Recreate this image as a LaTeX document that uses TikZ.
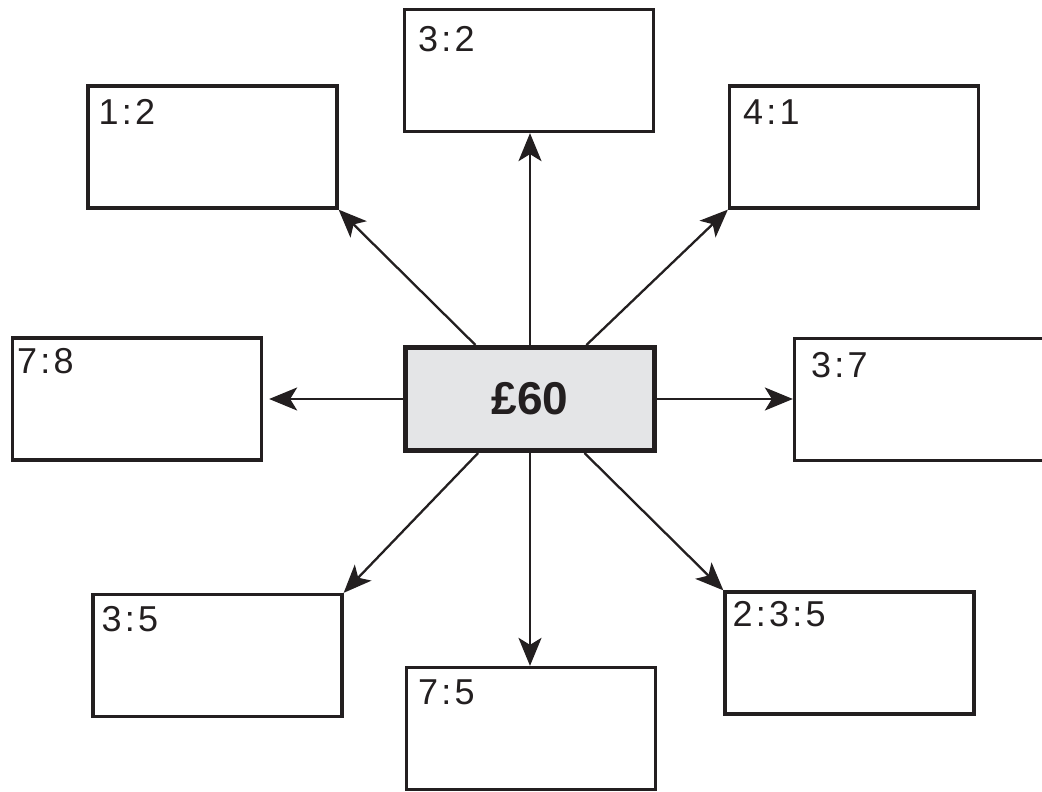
\documentclass[tikz,border=0pt]{standalone}
\usepackage{fontspec}
\setmainfont{Liberation Sans}
\newfontfamily\ratiofont{Liberation Sans}[LetterSpace=9]
\usetikzlibrary{arrows.meta}
\definecolor{ink}{HTML}{231F20}
\definecolor{hubgray}{HTML}{E4E5E7}
\begin{document}
\begin{tikzpicture}[x=1pt,y=-1pt,
  ratiobox/.style={draw=ink, line width=3.3pt, minimum width=249pt, minimum height=122pt, inner sep=0pt},
  hub/.style={draw=ink, fill=hubgray, line width=5pt, minimum width=249pt, minimum height=103pt,
    inner sep=0pt, text=ink, font=\bfseries\fontsize{46}{50}\selectfont},
  ratio/.style={anchor=north west, inner sep=0pt, text=ink, font=\ratiofont\fontsize{36}{40}\selectfont},
  link/.style={draw=ink, line width=2.3pt, -{Stealth[length=28pt,width=23pt,inset=7pt]}}]
\useasboundingbox (0,0) rectangle (1042,792);
\clip (0,0) rectangle (1042,792);

% central amount
\node[hub] (c) at (530,399) {£60};

% surrounding ratio boxes
\node[ratiobox] (b32)  at (529,70.5)  {};
\node[ratiobox] (b12)  at (212.5,147) {};
\node[ratiobox] (b41)  at (854,147)   {};
\node[ratiobox] (b78)  at (137,399)   {};
\node[ratiobox] (b37)  at (919,399.5) {};
\node[ratiobox] (b35)  at (217.5,655.5) {};
\node[ratiobox] (b75)  at (531,728.5) {};
\node[ratiobox] (b235) at (849.5,653) {};

% ratio labels in the top-left corners
\node[ratio] (t32)  at ([shift={(15,18)}]b32.north west)  {3:2};
\node[ratio] (t12)  at ([shift={(12,15)}]b12.north west)  {1:2};
\node[ratio] (t41)  at ([shift={(15,15)}]b41.north west)  {4:1};
\node[ratio] (t78)  at ([shift={(6,12)}]b78.north west)   {7:8};
\node[ratio] (t37)  at ([shift={(18,15)}]b37.north west)  {3:7};
\node[ratio] (t35)  at ([shift={(10,13)}]b35.north west)  {3:5};
\node[ratio] (t75)  at ([shift={(13,14)}]b75.north west)  {7:5};
\node[ratio] (t235) at ([shift={(9,11)}]b235.north west)  {2:3:5};

% arrows out of the centre
\draw[link] (c.north) -- (c.north |- b32.south);
\draw[link] (c.south) -- (c.south |- b75.north);
\draw[link, shorten >=6pt] (c.west) -- (c.west -| b78.east);
\draw[link] (c.east) -- (c.east -| b37.west);
\draw[link] (c) -- (b12.south east);
\draw[link] (c) -- (b41.south west);
\draw[link] (c) -- (b35.north east);
\draw[link] (c) -- (b235.north west);
\end{tikzpicture}
\end{document}
